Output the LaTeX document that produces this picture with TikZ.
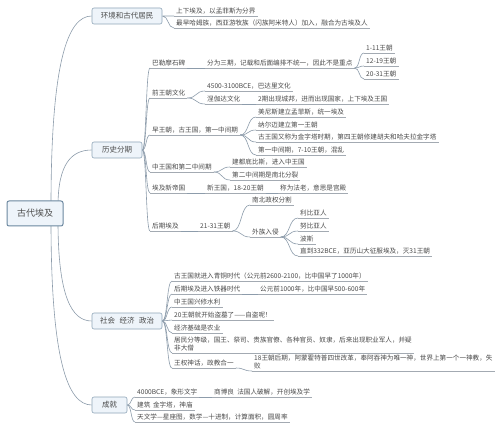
\documentclass[tikz,border=0pt]{standalone}
\usepackage{fontspec}
\setmainfont{Noto Sans CJK SC}
\usetikzlibrary{calc,backgrounds}
\definecolor{mmtext}{HTML}{4A4A4A}
\definecolor{mmline}{HTML}{8D9CAB}
\definecolor{mmul}{HTML}{A3AAB2}
\definecolor{mmfill}{HTML}{EEF4FA}
\definecolor{mmdraw}{HTML}{8FA5B8}
\definecolor{mmroot}{HTML}{6B879F}
\begin{document}
\begin{tikzpicture}[x=1pt,y=-1pt,
  lf/.style={anchor=south west, inner xsep=2pt, inner ysep=1.4pt, font=\fontsize{6.6}{8.2}\selectfont, text=mmtext, align=left},
  box/.style={draw=mmdraw, fill=mmfill, rounded corners=2pt, line width=0.6pt, font=\fontsize{7.5}{9}\selectfont, text=mmtext, minimum height=16pt, inner sep=0pt},
  rootbox/.style={draw=mmroot, fill=mmfill, rounded corners=2pt, line width=1pt, font=\fontsize{9}{11}\selectfont, text=mmtext, minimum height=25pt, minimum width=56pt, inner sep=0pt},
  ul/.style={draw=mmul, line width=0.5pt},
  cn/.style={draw=mmline, line width=0.6pt},
  fork/.style={to path={.. controls ($(\tikztostart)!0.55!(\tikztotarget|-\tikztostart)$) and ($(\tikztotarget)!0.55!(\tikztostart|-\tikztotarget)$) .. (\tikztotarget)}},
  rl/.style={to path={.. controls ($(\tikztostart)!0.75!(\tikztostart|-\tikztotarget)$) and ($(\tikztotarget)!0.6!(\tikztostart|-\tikztotarget)$) .. (\tikztotarget)}}
]
\useasboundingbox (0,0) rectangle (500,427);

% main boxes
\node[rootbox] (root) at (35,213.5) {古代埃及};
\node[box, minimum width=70pt] (env) at (127,16) {环境和古代居民};
\node[box, minimum width=50pt] (hist) at (117,150) {历史分期};
\node[box, minimum width=70pt] (soc) at (127,321) {社会\hspace{0.6em}经济\hspace{0.6em}政治};
\node[box, minimum width=35pt] (ach) at (109.5,405) {成就};

\coordinate (r1) at (51,206);
\coordinate (r2) at (58,206);
\coordinate (r3) at (58,221);
\coordinate (r4) at (51,221);

% environment
\node[lf] (e1) at (174,16) {上下埃及，以孟菲斯为分界};
\node[lf] (e2) at (174,28) {最早哈姆族，西亚游牧族（闪族阿米特人）加入，融合为古埃及人};

% history
\node[lf] (h1) at (150,68) {巴勒摩石碑};
\node[lf] (h1a) at (205,68) {分为三期，记载和后面编排不统一，因此不是重点};
\node[lf] (h1a1) at (364,53) {1-11王朝};
\node[lf] (h1a2) at (364,66) {12-19王朝};
\node[lf] (h1a3) at (364,79) {20-31王朝};
\node[lf] (h2) at (150,98) {前王朝文化};
\node[lf] (h2a) at (205,91) {4500-3100BCE，巴达里文化};
\node[lf] (h2b) at (205,104) {涅伽达文化};
\node[lf] (h2c) at (256,104) {2期出现城邦，进而出现国家，上下埃及王国};
\node[lf] (h3) at (150,135) {早王朝，古王国，第一中间期};
\node[lf] (h3a) at (256,117) {美尼斯建立孟菲斯，统一埃及};
\node[lf] (h3b) at (256,130) {纳尔迈建立第一王朝};
\node[lf] (h3c) at (256,142) {古王国又称为金字塔时期，第四王朝修建胡夫和哈夫拉金字塔};
\node[lf] (h3d) at (256,155) {第一中间期，7-10王朝，混乱};
\node[lf] (h4) at (150,172) {中王国和第二中间期};
\node[lf] (h4a) at (230,167) {建都底比斯，进入中王国};
\node[lf] (h4b) at (230,180) {第二中间期是南北分裂};
\node[lf] (h5) at (150,193) {埃及新帝国};
\node[lf] (h5a) at (205,193) {新王国，18-20王朝};
\node[lf] (h5b) at (278,193) {称为法老，意思是宫殿};
\node[lf] (h6) at (150,231) {后期埃及};
\node[lf] (h6a) at (198,231) {21-31王朝};
\node[lf] (h6b) at (250,205) {南北政权分割};
\node[lf] (h6c) at (250,237) {外族入侵};
\node[lf] (h6c1) at (298,218) {利比亚人};
\node[lf] (h6c2) at (298,231) {努比亚人};
\node[lf] (h6c3) at (298,244) {波斯};
\node[lf] (h6c4) at (298,256) {直到332BCE，亚历山大征服埃及，灭31王朝};

% society
\node[lf] (s1) at (172,281) {古王国就进入青铜时代（公元前2600-2100，比中国早了1000年）};
\node[lf] (s2) at (172,294) {后期埃及进入铁器时代};
\node[lf] (s2a) at (258,294) {公元前1000年，比中国早500-600年};
\node[lf] (s3) at (172,307) {中王国兴修水利};
\node[lf] (s4) at (172,320) {20王朝就开始盗墓了——自盗呢！};
\node[lf] (s5) at (172,333) {经济基础是农业};
\node[lf] (s6) at (172,353) {居民分等级，国王、祭司、贵族官僚、各种官员、奴隶，后来出现职业军人，并疑\\非大僧};
\node[lf] (s7) at (172,368) {王权神话，政教合一};
\node[lf] (s7a) at (252,371) {18王朝后期，阿蒙霍特普四世改革，奉阿吞神为唯一神，世界上第一个一神教，失\\败};

% achievements
\node[lf] (a1) at (135,397) {4000BCE，象形文字};
\node[lf] (a1a) at (212,397) {商博良\hspace{0.5em}法国人破解，开创埃及学};
\node[lf] (a2) at (135,410) {建筑\hspace{0.4em}金字塔，神庙};
\node[lf] (a3) at (135,422) {天文学—星座图，数学—十进制，计算面积，圆周率};

\begin{pgfonlayer}{background}
\fill[white] (0,0) rectangle (500,427);
\foreach \n in {e1,e2,h1,h1a,h1a1,h1a2,h1a3,h2,h2a,h2b,h2c,h3,h3a,h3b,h3c,h3d,h4,h4a,h4b,h5,h5a,h5b,h6,h6a,h6b,h6c,h6c1,h6c2,h6c3,h6c4,s1,s2,s2a,s3,s4,s5,s6,s7,s7a,a1,a1a,a2,a3}
  \draw[ul] (\n.south west) -- (\n.south east);
\draw[cn] (r1) to[rl] (env.west);
\draw[cn] (r2) to[rl] (hist.west);
\draw[cn] (r3) to[rl] (soc.west);
\draw[cn] (r4) to[rl] (ach.west);
\draw[cn] (env.east) to[fork] (e1.south west) (env.east) to[fork] (e2.south west);
\foreach \n in {h1,h2,h3,h4,h5,h6} \draw[cn] (hist.east) to[fork] (\n.south west);
\draw[cn] (h1.south east) -- (h1a.south west);
\foreach \n in {h1a1,h1a2,h1a3} \draw[cn] (h1a.south east) to[fork] (\n.south west);
\foreach \n in {h2a,h2b} \draw[cn] (h2.south east) to[fork] (\n.south west);
\draw[cn] (h2b.south east) -- (h2c.south west);
\foreach \n in {h3a,h3b,h3c,h3d} \draw[cn] (h3.south east) to[fork] (\n.south west);
\foreach \n in {h4a,h4b} \draw[cn] (h4.south east) to[fork] (\n.south west);
\draw[cn] (h5.south east) -- (h5a.south west);
\draw[cn] (h5a.south east) -- (h5b.south west);
\draw[cn] (h6.south east) -- (h6a.south west);
\foreach \n in {h6b,h6c} \draw[cn] (h6a.south east) to[fork] (\n.south west);
\foreach \n in {h6c1,h6c2,h6c3,h6c4} \draw[cn] (h6c.south east) to[fork] (\n.south west);
\foreach \n in {s1,s2,s3,s4,s5,s6,s7} \draw[cn] (soc.east) to[fork] (\n.south west);
\draw[cn] (s2.south east) -- (s2a.south west);
\draw[cn] (s7.south east) to[fork] (s7a.south west);
\foreach \n in {a1,a2,a3} \draw[cn] (ach.east) to[fork] (\n.south west);
\draw[cn] (a1.south east) -- (a1a.south west);
\end{pgfonlayer}
\end{tikzpicture}
\end{document}
